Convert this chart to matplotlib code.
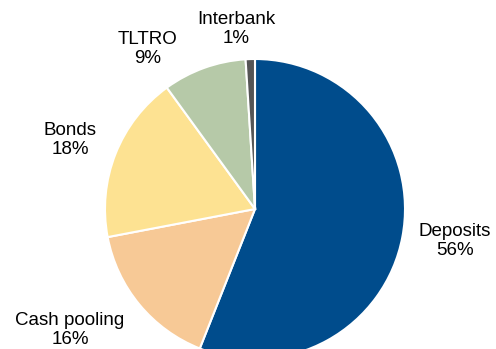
import matplotlib.pyplot as plt

labels = ["Deposits", "Cash pooling", "Bonds", "TLTRO", "Interbank"]
shares = [56, 16, 18, 9, 1]
colors = ["#004c8c", "#f7c996", "#fde292", "#b6c9a8", "#555555"]

# text anchor for each label (pixel coords, y measured up from the bottom)
label_xy = [(455, 108), (70, 19), (70, 209), (148, 300), (236, 320)]

fig = plt.figure(figsize=(4.96, 3.49), dpi=100)
ax = fig.add_axes([0, 0, 1, 1])

ax.pie(shares, colors=colors, startangle=90, counterclock=False,
       center=(255, 140), radius=150,
       wedgeprops=dict(edgecolor="white", linewidth=1.5))

for name, val, (x, y) in zip(labels, shares, label_xy):
    ax.text(x, y, "%s\n%d%%" % (name, val), ha="center", va="center",
            fontsize=13.5, family="Liberation Sans", linespacing=1.1)

ax.set_xlim(0, 496)
ax.set_ylim(0, 349)
ax.set_aspect("equal")
ax.axis("off")

fig.savefig("out.png", dpi=100)
